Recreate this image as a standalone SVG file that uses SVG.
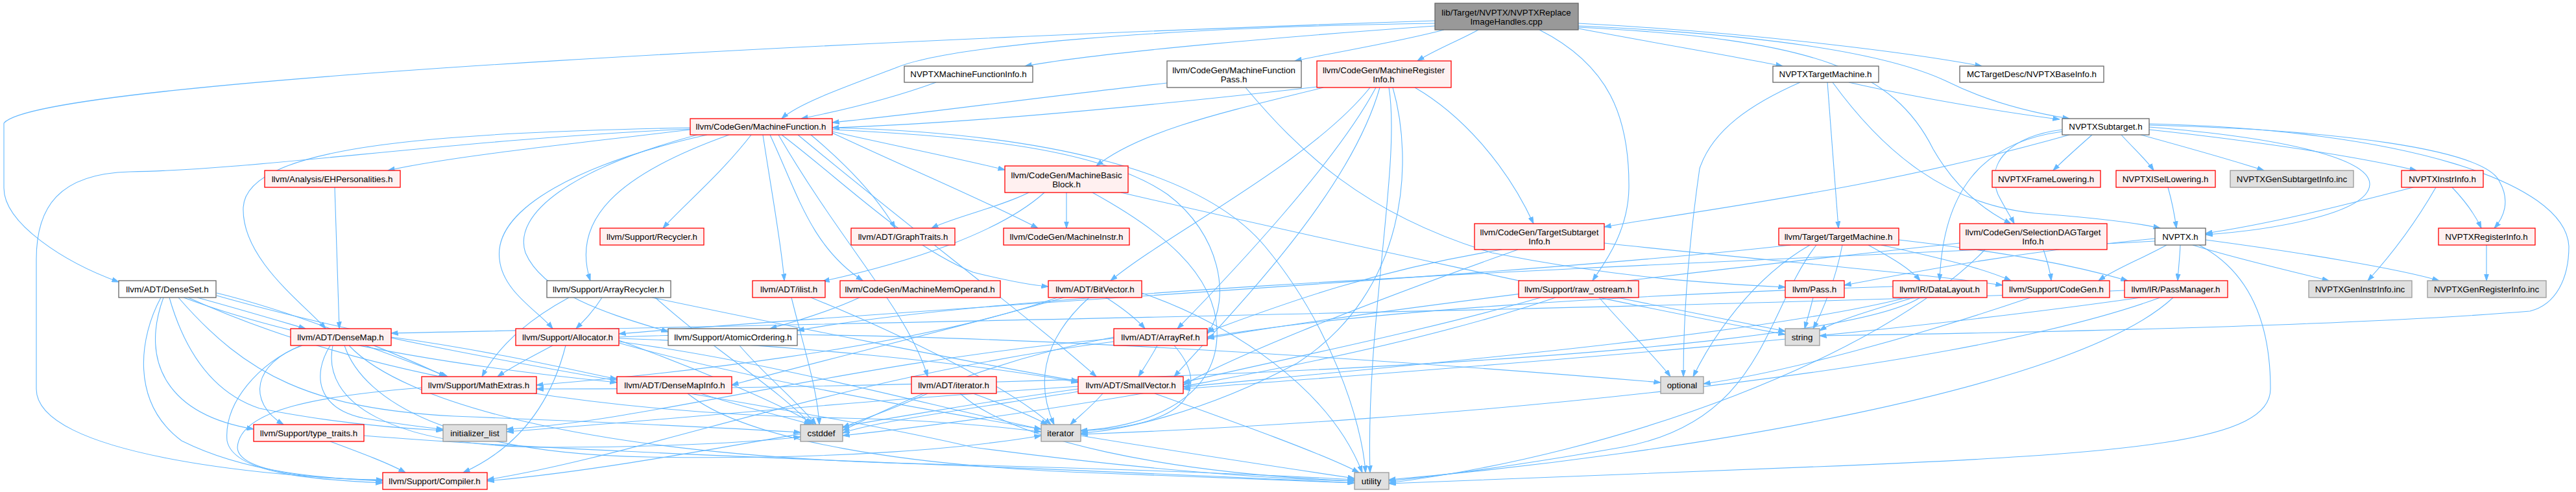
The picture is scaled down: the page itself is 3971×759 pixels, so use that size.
<svg xmlns="http://www.w3.org/2000/svg" width="3971" height="759" viewBox="0 0 3971 759">
<defs>
<style>
.e path{fill:none;stroke:#63b8ff;stroke-width:1.1;marker-end:url(#a)}
.n rect{stroke-width:1.3}
.r rect{fill:#fff0f0;stroke:#ff0000}
.w rect{fill:#ffffff;stroke:#666666}
.g rect{fill:#e0e0e0;stroke:#999999}
.k rect{fill:#999999;stroke:#666666}
text{font-family:"Liberation Sans",Arial,Helvetica,sans-serif;font-size:13.33px;fill:#000;text-anchor:middle}
</style>
<marker id="a" markerWidth="11" markerHeight="8" refX="10.5" refY="4" orient="auto" markerUnits="userSpaceOnUse"><path d="M0,0.5 L10.5,4 L0,7.5z" fill="#63b8ff" stroke="#63b8ff" stroke-width="1"/></marker>
</defs>
<rect x="0" y="0" width="3971" height="759" fill="#ffffff"/>
<g id="edges" class="e">
<path d="M2212,32 C1500,55 60,120 6,190 L6,290 C6,345 100,405 183,435"/>
<path d="M2212,36 C1800,42 1460,70 1380,105 C1300,135 1230,160 1205,183"/>
<path d="M2212,40 C2000,55 1700,80 1580,102"/>
<path d="M2226,46 C2150,66 2060,80 1996,94"/>
<path d="M2279,46 C2250,62 2210,78 2185,94"/>
<path d="M2433,44 C2560,68 2680,88 2748,102"/>
<path d="M2433,36 C2700,50 2950,82 3055,102"/>
<path d="M2433,40 C2700,52 2900,78 3000,125 C3070,160 3140,175 3190,183"/>
<path d="M2433,42 C2800,60 2920,110 2980,230 C3020,300 3070,330 3100,345"/>
<path d="M2373,46 C2480,100 2512,180 2511,290 C2510,360 2470,410 2455,433"/>
<path d="M1443,127 C1380,150 1300,170 1235,183"/>
<path d="M1799,128 C1600,150 1400,178 1283,189"/>
<path d="M2030,134 C1800,160 1500,190 1283,197"/>
<path d="M1920,135 C2000,230 2100,330 2300,390 C2500,430 2650,438 2752,443"/>
<path d="M2040,135 C1900,170 1760,200 1690,256"/>
<path d="M2181,135 C2250,175 2320,250 2364,345"/>
<path d="M2121,135 C2060,250 1900,420 1815,507"/>
<path d="M2112,135 C2020,250 1800,360 1712,433"/>
<path d="M2127,135 C2080,300 1900,480 1810,581"/>
<path d="M2141,135 C2160,250 2105,500 2112,729"/>
<path d="M2147,135 C2180,250 2170,450 2000,560 C1850,640 1720,665 1666,668"/>
<path d="M1586,297 C1540,320 1470,335 1436,352"/>
<path d="M1644,297 L1644,352"/>
<path d="M1610,297 C1540,360 1400,405 1268,434"/>
<path d="M1728,297 C2000,360 2500,470 2752,516"/>
<path d="M1684,297 C1780,350 1880,420 1876,520 C1872,620 1760,660 1666,664"/>
<path d="M1064,200 C900,220 700,240 598,263"/>
<path d="M1064,197 C700,205 380,220 375,320 C372,400 470,470 502,507"/>
<path d="M1064,199 C700,215 400,262 200,265 C90,268 56,320 56,400 L56,600 C56,700 400,735 590,741"/>
<path d="M1158,208 C1110,270 1050,320 1022,352"/>
<path d="M1124,208 C950,270 880,340 910,433"/>
<path d="M1090,208 C900,250 760,320 770,400 C775,450 830,480 852,507"/>
<path d="M1075,208 C880,260 790,330 810,390 C840,460 960,490 1030,512"/>
<path d="M1176,208 C1190,300 1205,380 1209,433"/>
<path d="M1187,208 C1230,300 1250,380 1330,433"/>
<path d="M1205,208 C1300,280 1400,380 1500,420 C1560,435 1590,440 1616,442"/>
<path d="M1283,200 C1500,210 1700,230 1800,300 C1880,360 1900,460 1861,515"/>
<path d="M1283,205 C1400,260 1520,310 1600,352"/>
<path d="M1283,203 C1380,225 1480,245 1549,262"/>
<path d="M1250,208 C1300,250 1350,300 1380,352"/>
<path d="M1200,208 C1300,380 1400,480 1430,581"/>
<path d="M1230,208 C1400,350 1600,500 1690,581"/>
<path d="M1283,197 C1600,205 1850,260 1950,380 C2050,500 2100,650 2105,729"/>
<path d="M516,289 L523,507"/>
<path d="M304,459 C380,480 430,495 471,507"/>
<path d="M283,459 C500,540 800,575 951,590"/>
<path d="M334,452 C450,480 600,540 687,581"/>
<path d="M252,459 C215,560 260,640 391,662"/>
<path d="M248,459 C215,520 200,620 280,680 C380,730 500,738 590,742"/>
<path d="M261,459 C290,560 340,610 400,630 C500,650 600,660 683,664"/>
<path d="M275,459 C380,580 480,630 700,642 C950,652 1150,662 1234,667"/>
<path d="M290,459 C600,600 1000,640 1300,645 C1450,648 1550,660 1605,666"/>
<path d="M334,456 C700,560 1200,620 1500,690 C1800,730 2000,740 2088,742"/>
<path d="M603,520 C750,540 880,570 951,585"/>
<path d="M563,533 C610,550 650,565 690,581"/>
<path d="M466,533 C390,560 380,620 437,655"/>
<path d="M464,533 C400,560 345,620 350,680 C360,730 480,740 590,745"/>
<path d="M509,533 C480,580 490,630 560,645 C620,655 660,660 683,662"/>
<path d="M513,533 C495,620 600,690 850,690 C1050,690 1180,680 1234,674"/>
<path d="M531,533 C560,620 700,700 1000,705 C1300,710 1500,690 1605,672"/>
<path d="M538,533 C620,620 900,700 1400,715 C1800,725 2000,735 2088,740"/>
<path d="M650,598 C500,610 370,630 366,690 C366,730 500,740 590,740"/>
<path d="M509,681 C560,700 600,715 625,729"/>
<path d="M561,672 C900,700 1600,720 2088,745"/>
<path d="M1080,607 C1150,630 1220,645 1250,655"/>
<path d="M1060,607 C1150,680 1400,720 1700,730 C1900,737 2030,742 2088,745"/>
<path d="M852,533 C820,550 790,565 767,581"/>
<path d="M872,533 C850,620 800,690 714,729"/>
<path d="M954,525 C1050,560 1200,620 1255,655"/>
<path d="M954,529 C1200,600 1700,680 2088,738"/>
<path d="M954,522 C1200,530 1500,560 1662,590"/>
<path d="M954,527 C1200,560 1450,630 1605,662"/>
<path d="M954,520 C1400,500 2200,560 2560,590"/>
<path d="M1140,533 C1180,580 1230,620 1258,655"/>
<path d="M928,459 C915,480 900,495 888,507"/>
<path d="M877,459 C820,490 770,530 743,581"/>
<path d="M1005,459 C1200,500 1500,560 1662,588"/>
<path d="M1010,459 C1100,540 1200,600 1250,655"/>
<path d="M1220,459 C1240,540 1260,600 1263,655"/>
<path d="M1250,459 C1400,520 1560,600 1620,655"/>
<path d="M1325,459 C1280,480 1230,495 1187,507"/>
<path d="M1705,459 C1730,475 1750,490 1765,507"/>
<path d="M1640,459 C1500,500 1250,560 1128,594"/>
<path d="M1630,459 C1400,540 1000,580 827,594"/>
<path d="M1679,459 C1600,530 1600,600 1625,655"/>
<path d="M1760,452 C1900,500 2050,600 2100,729"/>
<path d="M1784,533 C1775,550 1765,565 1755,581"/>
<path d="M1810,533 C1860,590 1850,655 1666,665"/>
<path d="M1717,527 C1300,580 1000,700 751,740"/>
<path d="M1717,522 C1300,560 1000,650 781,662"/>
<path d="M1717,520 C1500,560 1350,640 1299,664"/>
<path d="M1662,600 C1300,650 1000,720 751,742"/>
<path d="M1700,607 C1680,630 1660,645 1650,655"/>
<path d="M1780,607 C1900,650 2040,700 2095,729"/>
<path d="M1662,596 C1300,620 1000,650 781,666"/>
<path d="M1662,604 C1500,630 1350,650 1299,668"/>
<path d="M1500,607 C1550,625 1590,642 1615,655"/>
<path d="M1430,607 C1380,630 1320,650 1299,660"/>
<path d="M1480,607 C1560,680 1800,730 2088,742"/>
<path d="M2465,459 C2510,510 2560,560 2575,581"/>
<path d="M2493,459 C2600,480 2700,500 2752,511"/>
<path d="M2375,459 C2200,510 1950,560 1824,590"/>
<path d="M2398,459 C2100,560 1600,640 1299,672"/>
<path d="M2315,385 C2100,420 1950,480 1861,512"/>
<path d="M2340,385 C2100,470 1900,550 1824,594"/>
<path d="M2473,375 C2700,400 2950,420 3087,440"/>
<path d="M2880,378 C2920,400 2945,415 2960,433"/>
<path d="M2900,378 C3000,400 3060,415 3100,433"/>
<path d="M2927,370 C3100,390 3200,410 3280,433"/>
<path d="M2840,378 C2830,430 2810,480 2795,507"/>
<path d="M2790,378 C2700,430 2640,520 2610,581"/>
<path d="M2800,378 C2720,480 2720,650 2500,690 C2300,725 2180,738 2141,742"/>
<path d="M2760,378 C2400,420 1500,470 954,515"/>
<path d="M3150,385 C3155,400 3160,415 3162,433"/>
<path d="M3021,375 C2600,420 2100,480 1861,522"/>
<path d="M3060,385 C2900,550 2500,700 2141,745"/>
<path d="M3225,208 C3200,230 3180,248 3165,263"/>
<path d="M3270,208 C3290,230 3310,248 3320,263"/>
<path d="M3300,208 C3380,230 3450,250 3490,263"/>
<path d="M3313,200 C3500,220 3650,245 3725,263"/>
<path d="M3313,193 C3600,200 3830,230 3853,280 C3870,310 3860,335 3845,352"/>
<path d="M3313,196 C3550,215 3655,250 3653,285 C3650,330 3500,355 3400,362"/>
<path d="M3313,191 C3700,200 3955,280 3960,380 C3960,430 3940,470 3900,480 C3600,505 3000,515 2805,518"/>
<path d="M3179,200 C3100,210 3060,250 3080,300 C3090,320 3100,335 3105,345"/>
<path d="M3179,203 C3050,220 2995,300 2990,433"/>
<path d="M3190,208 C2900,290 2650,320 2473,350"/>
<path d="M2950,459 C2880,480 2830,495 2805,510"/>
<path d="M2918,442 C2500,455 2100,480 1861,520"/>
<path d="M2940,459 C2700,520 2100,570 1824,597"/>
<path d="M2960,459 C2800,560 1500,600 827,600"/>
<path d="M3130,459 C2950,520 2750,575 2626,592"/>
<path d="M3275,448 C2800,470 1500,495 603,514"/>
<path d="M3300,459 C2800,530 2200,570 1824,600"/>
<path d="M3330,459 C3000,580 2200,650 1666,670"/>
<path d="M3350,459 C3200,600 2600,700 2141,740"/>
<path d="M2795,459 C2790,480 2785,495 2782,507"/>
<path d="M2850,127 C2950,150 3100,175 3175,184"/>
<path d="M2817,127 L2834,352"/>
<path d="M2825,127 C2900,230 3000,320 3150,330 C3250,338 3300,345 3330,352"/>
<path d="M2775,127 C2700,160 2640,200 2620,260 C2600,400 2595,500 2595,581"/>
<path d="M3361,378 C3360,400 3358,415 3357,433"/>
<path d="M3322,368 C3100,390 2950,420 2843,440"/>
<path d="M3340,378 C3300,400 3260,415 3235,433"/>
<path d="M3380,378 C3450,400 3540,420 3590,433"/>
<path d="M3400,370 C3550,390 3700,415 3760,433"/>
<path d="M3322,372 C2800,400 1600,440 1229,510"/>
<path d="M3390,378 C3470,420 3500,500 3500,600 C3500,680 3300,700 2800,720 C2500,732 2250,740 2141,746"/>
<path d="M3720,289 C3600,320 3500,345 3400,360"/>
<path d="M3780,289 C3800,310 3815,330 3825,352"/>
<path d="M3755,289 C3720,350 3680,400 3650,433"/>
<path d="M3833,378 L3833,433"/>
<path d="M3342,289 C3348,310 3352,330 3355,352"/>
</g>
<g id="n_root" class="n k"><rect x="2212" y="5" width="221" height="41"/><text x="2322" y="23.5">lib/Target/NVPTX/NVPTXReplace</text><text x="2322" y="37.5">ImageHandles.cpp</text></g>
<g id="n_mfi" class="n w"><rect x="1394" y="102" width="198" height="25"/><text x="1493" y="119">NVPTXMachineFunctionInfo.h</text></g>
<g id="n_mfp" class="n w"><rect x="1799" y="94" width="207" height="41"/><text x="1902" y="112.5">llvm/CodeGen/MachineFunction</text><text x="1902" y="126.5">Pass.h</text></g>
<g id="n_mri" class="n r"><rect x="2030" y="94" width="207" height="41"/><text x="2133" y="112.5">llvm/CodeGen/MachineRegister</text><text x="2133" y="126.5">Info.h</text></g>
<g id="n_ntm" class="n w"><rect x="2733" y="102" width="163" height="25"/><text x="2814" y="119">NVPTXTargetMachine.h</text></g>
<g id="n_bi" class="n w"><rect x="3021" y="102" width="222" height="25"/><text x="3132" y="119">MCTargetDesc/NVPTXBaseInfo.h</text></g>
<g id="n_mf" class="n r"><rect x="1064" y="183" width="219" height="25"/><text x="1173" y="200">llvm/CodeGen/MachineFunction.h</text></g>
<g id="n_st" class="n w"><rect x="3179" y="183" width="134" height="25"/><text x="3246" y="200">NVPTXSubtarget.h</text></g>
<g id="n_eh" class="n r"><rect x="408" y="263" width="209" height="26"/><text x="512" y="280.5">llvm/Analysis/EHPersonalities.h</text></g>
<g id="n_mbb" class="n r"><rect x="1549" y="256" width="190" height="41"/><text x="1644" y="274.5">llvm/CodeGen/MachineBasic</text><text x="1644" y="288.5">Block.h</text></g>
<g id="n_fl" class="n r"><rect x="3071" y="263" width="167" height="26"/><text x="3154" y="280.5">NVPTXFrameLowering.h</text></g>
<g id="n_isl" class="n r"><rect x="3262" y="263" width="153" height="26"/><text x="3338" y="280.5">NVPTXISelLowering.h</text></g>
<g id="n_gsi" class="n g"><rect x="3438" y="263" width="190" height="26"/><text x="3533" y="280.5">NVPTXGenSubtargetInfo.inc</text></g>
<g id="n_ii" class="n r"><rect x="3702" y="263" width="126" height="26"/><text x="3765" y="280.5">NVPTXInstrInfo.h</text></g>
<g id="n_tsi" class="n r"><rect x="2273" y="345" width="200" height="40"/><text x="2373" y="363">llvm/CodeGen/TargetSubtarget</text><text x="2373" y="377">Info.h</text></g>
<g id="n_rec" class="n r"><rect x="925" y="352" width="160" height="26"/><text x="1005" y="369.5">llvm/Support/Recycler.h</text></g>
<g id="n_gt" class="n r"><rect x="1312" y="352" width="160" height="26"/><text x="1392" y="369.5">llvm/ADT/GraphTraits.h</text></g>
<g id="n_mi" class="n r"><rect x="1547" y="352" width="194" height="26"/><text x="1644" y="369.5">llvm/CodeGen/MachineInstr.h</text></g>
<g id="n_tm" class="n r"><rect x="2742" y="352" width="185" height="26"/><text x="2834" y="369.5">llvm/Target/TargetMachine.h</text></g>
<g id="n_sdag" class="n r"><rect x="3021" y="345" width="227" height="40"/><text x="3134" y="363">llvm/CodeGen/SelectionDAGTarget</text><text x="3134" y="377">Info.h</text></g>
<g id="n_nv" class="n w"><rect x="3322" y="352" width="78" height="26"/><text x="3361" y="369.5">NVPTX.h</text></g>
<g id="n_ri" class="n r"><rect x="3759" y="352" width="149" height="26"/><text x="3833" y="369.5">NVPTXRegisterInfo.h</text></g>
<g id="n_ds" class="n w"><rect x="183" y="433" width="150" height="26"/><text x="258" y="450.5">llvm/ADT/DenseSet.h</text></g>
<g id="n_ar" class="n w"><rect x="843" y="433" width="191" height="26"/><text x="938" y="450.5">llvm/Support/ArrayRecycler.h</text></g>
<g id="n_il" class="n r"><rect x="1160" y="433" width="112" height="26"/><text x="1216" y="450.5">llvm/ADT/ilist.h</text></g>
<g id="n_mmo" class="n r"><rect x="1295" y="433" width="247" height="26"/><text x="1418" y="450.5">llvm/CodeGen/MachineMemOperand.h</text></g>
<g id="n_bv" class="n r"><rect x="1616" y="433" width="144" height="26"/><text x="1688" y="450.5">llvm/ADT/BitVector.h</text></g>
<g id="n_ro" class="n r"><rect x="2341" y="433" width="185" height="26"/><text x="2433" y="450.5">llvm/Support/raw_ostream.h</text></g>
<g id="n_ps" class="n r"><rect x="2752" y="433" width="91" height="26"/><text x="2797" y="450.5">llvm/Pass.h</text></g>
<g id="n_dl" class="n r"><rect x="2918" y="433" width="145" height="26"/><text x="2990" y="450.5">llvm/IR/DataLayout.h</text></g>
<g id="n_cg" class="n r"><rect x="3087" y="433" width="165" height="26"/><text x="3170" y="450.5">llvm/Support/CodeGen.h</text></g>
<g id="n_pm" class="n r"><rect x="3275" y="433" width="159" height="26"/><text x="3354" y="450.5">llvm/IR/PassManager.h</text></g>
<g id="n_gii" class="n g"><rect x="3559" y="433" width="159" height="26"/><text x="3638" y="450.5">NVPTXGenInstrInfo.inc</text></g>
<g id="n_gri" class="n g"><rect x="3742" y="433" width="183" height="26"/><text x="3833" y="450.5">NVPTXGenRegisterInfo.inc</text></g>
<g id="n_dm" class="n r"><rect x="448" y="507" width="155" height="26"/><text x="525" y="524.5">llvm/ADT/DenseMap.h</text></g>
<g id="n_al" class="n r"><rect x="795" y="507" width="159" height="26"/><text x="875" y="524.5">llvm/Support/Allocator.h</text></g>
<g id="n_ao" class="n w"><rect x="1030" y="507" width="199" height="26"/><text x="1130" y="524.5">llvm/Support/AtomicOrdering.h</text></g>
<g id="n_aref" class="n r"><rect x="1717" y="507" width="144" height="26"/><text x="1789" y="524.5">llvm/ADT/ArrayRef.h</text></g>
<g id="n_str" class="n g"><rect x="2752" y="507" width="53" height="26"/><text x="2778" y="524.5">string</text></g>
<g id="n_mx" class="n r"><rect x="650" y="581" width="177" height="26"/><text x="738" y="598.5">llvm/Support/MathExtras.h</text></g>
<g id="n_dmi" class="n r"><rect x="951" y="581" width="177" height="26"/><text x="1040" y="598.5">llvm/ADT/DenseMapInfo.h</text></g>
<g id="n_ith" class="n r"><rect x="1405" y="581" width="131" height="26"/><text x="1470" y="598.5">llvm/ADT/iterator.h</text></g>
<g id="n_sv" class="n r"><rect x="1662" y="581" width="162" height="26"/><text x="1743" y="598.5">llvm/ADT/SmallVector.h</text></g>
<g id="n_opt" class="n g"><rect x="2560" y="581" width="66" height="26"/><text x="2593" y="598.5">optional</text></g>
<g id="n_tt" class="n r"><rect x="391" y="655" width="170" height="26"/><text x="476" y="672.5">llvm/Support/type_traits.h</text></g>
<g id="n_init" class="n g"><rect x="683" y="655" width="98" height="26"/><text x="732" y="672.5">initializer_list</text></g>
<g id="n_cst" class="n g"><rect x="1234" y="655" width="65" height="26"/><text x="1266" y="672.5">cstddef</text></g>
<g id="n_itr" class="n g"><rect x="1605" y="655" width="61" height="26"/><text x="1635" y="672.5">iterator</text></g>
<g id="n_cmp" class="n r"><rect x="590" y="729" width="161" height="26"/><text x="670" y="746.5">llvm/Support/Compiler.h</text></g>
<g id="n_ut" class="n g"><rect x="2088" y="729" width="53" height="26"/><text x="2114" y="746.5">utility</text></g>
</svg>
